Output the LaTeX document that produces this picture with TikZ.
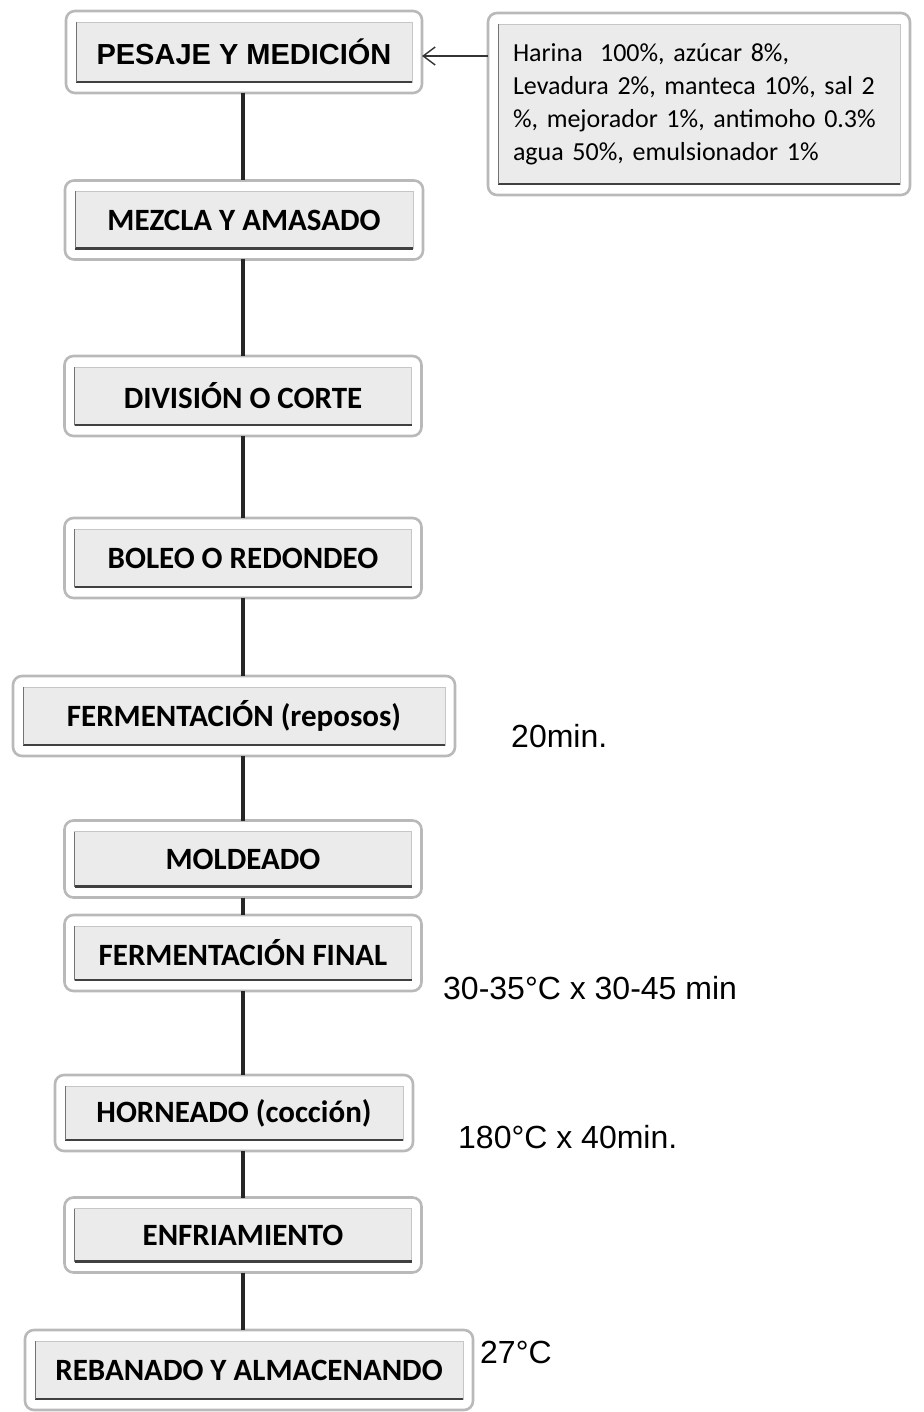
\documentclass[tikz,border=0pt]{standalone}
\usepackage{fontspec}
\setmainfont{Carlito}
\newfontfamily\arialfont{Liberation Sans}
\usetikzlibrary{arrows.meta,calc}

\begin{document}
\begin{tikzpicture}[x=1pt,y=-1pt,
  stepbox/.style={fill=gray!16,draw=gray!45,line width=0.6pt,inner sep=0pt,outer xsep=10pt,outer ysep=11pt,font=\bfseries\fontsize{31}{34}\selectfont},
  frame/.style={draw=gray!55,line width=2.6pt,rounded corners=9pt},
  link/.style={draw=black!85,line width=4.5pt},
  lab/.style={font=\arialfont\fontsize{32}{36}\selectfont,anchor=west,inner sep=0pt}]
\useasboundingbox (0,0) rectangle (923,1412);
\coordinate (spine) at (243,0);
\coordinate (arrowpt) at (0,56);
% process steps
\node[stepbox,minimum width=336,minimum height=60,font=\arialfont\bfseries\fontsize{29}{32}\selectfont] (pesaje) at (244,52) {PESAJE Y MEDICIÓN};
\node[stepbox,minimum width=402,minimum height=160,text width=372,align=left,font=\fontsize{26}{33}\selectfont] (ingredientes) at (699,104) {Harina\ \ 100\%, azúcar 8\%,\\ Levadura 2\%, manteca 10\%, sal 2\\ \%, mejorador 1\%, antimoho 0.3\%\\ agua 50\%, emulsionador 1\%};
\node[stepbox,minimum width=338,minimum height=57] (mezcla) at (244,220) {MEZCLA Y AMASADO};
\node[stepbox,minimum width=337,minimum height=58] (division) at (243,396) {DIVISIÓN O CORTE};
\node[stepbox,minimum width=337,minimum height=58] (boleo) at (243,558) {BOLEO O REDONDEO};
\node[stepbox,minimum width=422,minimum height=58] (fermentacion) at (234,716) {FERMENTACIÓN (reposos)};
\node[stepbox,minimum width=337,minimum height=55] (moldeado) at (243,859) {MOLDEADO};
\node[stepbox,minimum width=337,minimum height=54] (fermfinal) at (243,953) {FERMENTACIÓN FINAL};
\node[stepbox,minimum width=338,minimum height=54] (horneado) at (234,1113) {HORNEADO (cocción)};
\node[stepbox,minimum width=337,minimum height=53] (enfriamiento) at (243,1235) {ENFRIAMIENTO};
\node[stepbox,minimum width=428,minimum height=58] (rebanado) at (249,1370) {REBANADO Y ALMACENANDO};
% conditions
\node[lab] (tferm) at (511,736) {20min.};
\node[lab] (tfinal) at (443,988) {30-35°C x 30-45 min};
\node[lab] (thorno) at (458,1137) {180°C x 40min.};
\node[lab] (tenfr) at (480,1352) {27°C};
% frames and shadows
\foreach \n in {pesaje,ingredientes,mezcla,division,boleo,fermentacion,moldeado,fermfinal,horneado,enfriamiento,rebanado} {
  \draw[frame] (\n.north west) rectangle (\n.south east);
  \draw[black!75,line width=2.4pt] ([shift={(10pt,11pt)}]\n.south west) -- ([shift={(-10pt,11pt)}]\n.south east);
  \draw[black!55,line width=1pt] ([shift={(10pt,11pt)}]\n.south west) -- ([shift={(10pt,-11pt)}]\n.north west);
}
% flow
\foreach \a/\b in {pesaje/mezcla,mezcla/division,division/boleo,boleo/fermentacion,fermentacion/moldeado,moldeado/fermfinal,fermfinal/horneado,horneado/enfriamiento,enfriamiento/rebanado}
  \draw[link] (\a.south -| spine) -- (\b.north -| spine);
\draw[-{Straight Barb[length=12pt,width=18pt]},line width=1.4pt,black!80] (ingredientes.west |- arrowpt) -- (pesaje.east |- arrowpt);
\end{tikzpicture}
\end{document}
